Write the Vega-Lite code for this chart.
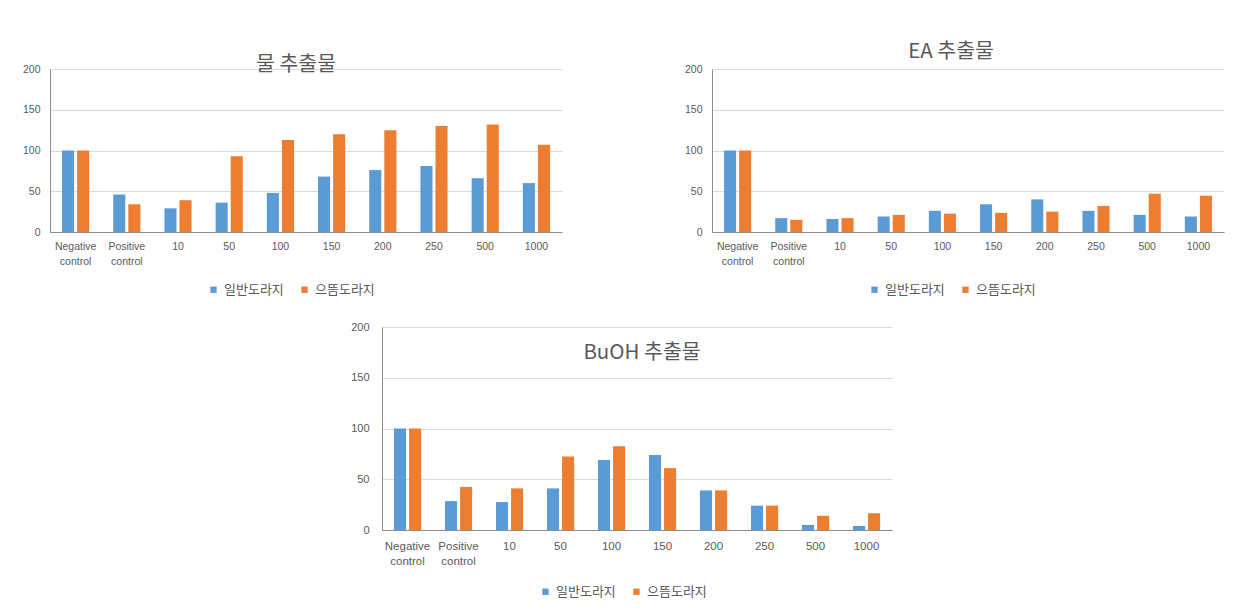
{
  "$schema": "https://vega.github.io/schema/vega-lite/v6.json",
  "padding": {"left": 22, "top": 41, "right": 5, "bottom": 5},
  "background": "white",
  "datasets": {
    "d": [
      {"p": "water", "c": "Negative control", "v": "일반도라지", "val": 100},
      {"p": "water", "c": "Negative control", "v": "으뜸도라지", "val": 100},
      {"p": "water", "c": "Positive control", "v": "일반도라지", "val": 46},
      {"p": "water", "c": "Positive control", "v": "으뜸도라지", "val": 34},
      {"p": "water", "c": "10", "v": "일반도라지", "val": 29},
      {"p": "water", "c": "10", "v": "으뜸도라지", "val": 39},
      {"p": "water", "c": "50", "v": "일반도라지", "val": 36},
      {"p": "water", "c": "50", "v": "으뜸도라지", "val": 93},
      {"p": "water", "c": "100", "v": "일반도라지", "val": 48},
      {"p": "water", "c": "100", "v": "으뜸도라지", "val": 113},
      {"p": "water", "c": "150", "v": "일반도라지", "val": 68},
      {"p": "water", "c": "150", "v": "으뜸도라지", "val": 120},
      {"p": "water", "c": "200", "v": "일반도라지", "val": 76},
      {"p": "water", "c": "200", "v": "으뜸도라지", "val": 125},
      {"p": "water", "c": "250", "v": "일반도라지", "val": 81},
      {"p": "water", "c": "250", "v": "으뜸도라지", "val": 130},
      {"p": "water", "c": "500", "v": "일반도라지", "val": 66},
      {"p": "water", "c": "500", "v": "으뜸도라지", "val": 132},
      {"p": "water", "c": "1000", "v": "일반도라지", "val": 60},
      {"p": "water", "c": "1000", "v": "으뜸도라지", "val": 107},
      {"p": "ea", "c": "Negative control", "v": "일반도라지", "val": 100},
      {"p": "ea", "c": "Negative control", "v": "으뜸도라지", "val": 100},
      {"p": "ea", "c": "Positive control", "v": "일반도라지", "val": 17},
      {"p": "ea", "c": "Positive control", "v": "으뜸도라지", "val": 15},
      {"p": "ea", "c": "10", "v": "일반도라지", "val": 16},
      {"p": "ea", "c": "10", "v": "으뜸도라지", "val": 17},
      {"p": "ea", "c": "50", "v": "일반도라지", "val": 19},
      {"p": "ea", "c": "50", "v": "으뜸도라지", "val": 21},
      {"p": "ea", "c": "100", "v": "일반도라지", "val": 26},
      {"p": "ea", "c": "100", "v": "으뜸도라지", "val": 22.5},
      {"p": "ea", "c": "150", "v": "일반도라지", "val": 34},
      {"p": "ea", "c": "150", "v": "으뜸도라지", "val": 23.5},
      {"p": "ea", "c": "200", "v": "일반도라지", "val": 40},
      {"p": "ea", "c": "200", "v": "으뜸도라지", "val": 25},
      {"p": "ea", "c": "250", "v": "일반도라지", "val": 26},
      {"p": "ea", "c": "250", "v": "으뜸도라지", "val": 32},
      {"p": "ea", "c": "500", "v": "일반도라지", "val": 21},
      {"p": "ea", "c": "500", "v": "으뜸도라지", "val": 47},
      {"p": "ea", "c": "1000", "v": "일반도라지", "val": 19},
      {"p": "ea", "c": "1000", "v": "으뜸도라지", "val": 44.5},
      {"p": "buoh", "c": "Negative control", "v": "일반도라지", "val": 100},
      {"p": "buoh", "c": "Negative control", "v": "으뜸도라지", "val": 100},
      {"p": "buoh", "c": "Positive control", "v": "일반도라지", "val": 28.5},
      {"p": "buoh", "c": "Positive control", "v": "으뜸도라지", "val": 42.5},
      {"p": "buoh", "c": "10", "v": "일반도라지", "val": 27.5},
      {"p": "buoh", "c": "10", "v": "으뜸도라지", "val": 41},
      {"p": "buoh", "c": "50", "v": "일반도라지", "val": 41},
      {"p": "buoh", "c": "50", "v": "으뜸도라지", "val": 72.5},
      {"p": "buoh", "c": "100", "v": "일반도라지", "val": 69},
      {"p": "buoh", "c": "100", "v": "으뜸도라지", "val": 82.5},
      {"p": "buoh", "c": "150", "v": "일반도라지", "val": 74},
      {"p": "buoh", "c": "150", "v": "으뜸도라지", "val": 61},
      {"p": "buoh", "c": "200", "v": "일반도라지", "val": 39},
      {"p": "buoh", "c": "200", "v": "으뜸도라지", "val": 39},
      {"p": "buoh", "c": "250", "v": "일반도라지", "val": 24},
      {"p": "buoh", "c": "250", "v": "으뜸도라지", "val": 24},
      {"p": "buoh", "c": "500", "v": "일반도라지", "val": 5},
      {"p": "buoh", "c": "500", "v": "으뜸도라지", "val": 14},
      {"p": "buoh", "c": "1000", "v": "일반도라지", "val": 4},
      {"p": "buoh", "c": "1000", "v": "으뜸도라지", "val": 16.5}
    ]
  },
  "config": {
    "font": "Noto Sans CJK KR",
    "view": {"stroke": null},
    "title": {"fontSize": 20.5, "fontWeight": "normal", "color": "#595959", "anchor": "middle"},
    "axis": {
      "labelColor": "#595959", "labelFontSize": 10.5, "labelFont": "Liberation Sans",
      "ticks": false, "title": null, "domainColor": "#8c8c8c", "gridColor": "#d9d9d9"
    },
    "legend": {
      "labelColor": "#595959", "labelFontSize": 13, "symbolType": "square", "symbolSize": 40,
      "symbolStrokeWidth": 0, "columnPadding": 14, "labelOffset": 4, "title": null
    }
  },
  "vconcat": [
    {
      "hconcat": [
        {
          "width": 512, "height": 163,
          "title": {"text": "물 추출물", "offset": -11, "dx": -10},
          "data": {"name": "d"},
          "transform": [{"filter": "datum.p == 'water'"}],
          "mark": {"type": "bar"},
          "encoding": {
            "x": {"field": "c", "type": "nominal", "sort": null,
              "scale": {"paddingInner": 0.47, "paddingOuter": 0.235},
              "axis": {"labelAngle": 0, "labelPadding": 9, "labelLineHeight": 15, "labelExpr": "indexof(datum.label, ' ') > 0 ? split(datum.label, ' ') : datum.label", "grid": false}},
            "xOffset": {"field": "v", "type": "nominal", "scale": {"domain": ["일반도라지", "으뜸도라지"], "paddingInner": 0.2}},
            "y": {"field": "val", "type": "quantitative", "scale": {"domain": [0, 200]},
              "axis": {"values": [0, 50, 100, 150, 200], "labelPadding": 10, "domain": true}},
            "color": {"field": "v", "type": "nominal",
              "scale": {"domain": ["일반도라지", "으뜸도라지"], "range": ["#5B9BD5", "#ED7D31"]},
              "legend": {"orient": "none", "direction": "horizontal", "legendX": 157, "legendY": 214}}
          }
        },
        {
          "width": 512, "height": 163,
          "title": {"text": "EA 추출물", "offset": 2, "dx": -17},
          "data": {"name": "d"},
          "transform": [{"filter": "datum.p == 'ea'"}],
          "mark": {"type": "bar"},
          "encoding": {
            "x": {"field": "c", "type": "nominal", "sort": null,
              "scale": {"paddingInner": 0.47, "paddingOuter": 0.235},
              "axis": {"labelAngle": 0, "labelPadding": 9, "labelLineHeight": 15, "labelExpr": "indexof(datum.label, ' ') > 0 ? split(datum.label, ' ') : datum.label", "grid": false}},
            "xOffset": {"field": "v", "type": "nominal", "scale": {"domain": ["일반도라지", "으뜸도라지"], "paddingInner": 0.2}},
            "y": {"field": "val", "type": "quantitative", "scale": {"domain": [0, 200]},
              "axis": {"values": [0, 50, 100, 150, 200], "labelPadding": 10, "domain": true}},
            "color": {"field": "v", "type": "nominal",
              "scale": {"domain": ["일반도라지", "으뜸도라지"], "range": ["#5B9BD5", "#ED7D31"]},
              "legend": {"orient": "none", "direction": "horizontal", "legendX": 156, "legendY": 214}}
          }
        }
      ],
      "spacing": 150,
      "bounds": "flush",
      "resolve": {"scale": {"color": "independent"}, "legend": {"color": "independent"}}
    },
    {
      "width": 510, "height": 203,
      "title": {"text": "BuOH 추출물", "offset": -42, "dx": 5},
      "data": {"name": "d"},
      "transform": [{"filter": "datum.p == 'buoh'"}],
      "mark": {"type": "bar"},
      "encoding": {
        "x": {"field": "c", "type": "nominal", "sort": null,
          "scale": {"paddingInner": 0.47, "paddingOuter": 0.235},
          "axis": {"labelAngle": 0, "labelPadding": 10, "labelLineHeight": 15, "labelFontSize": 11.5, "labelExpr": "indexof(datum.label, ' ') > 0 ? split(datum.label, ' ') : datum.label", "grid": false}},
        "xOffset": {"field": "v", "type": "nominal", "scale": {"domain": ["일반도라지", "으뜸도라지"], "paddingInner": 0.2}},
        "y": {"field": "val", "type": "quantitative", "scale": {"domain": [0, 200]},
          "axis": {"values": [0, 50, 100, 150, 200], "labelPadding": 13, "labelFontSize": 11, "domain": true}},
        "color": {"field": "v", "type": "nominal",
          "scale": {"domain": ["일반도라지", "으뜸도라지"], "range": ["#5B9BD5", "#ED7D31"]},
          "legend": {"orient": "none", "direction": "horizontal", "legendX": 157, "legendY": 258}}
      }
    }
  ],
  "spacing": 24,
  "center": true,
  "resolve": {"scale": {"color": "independent"}, "legend": {"color": "independent"}}
}
